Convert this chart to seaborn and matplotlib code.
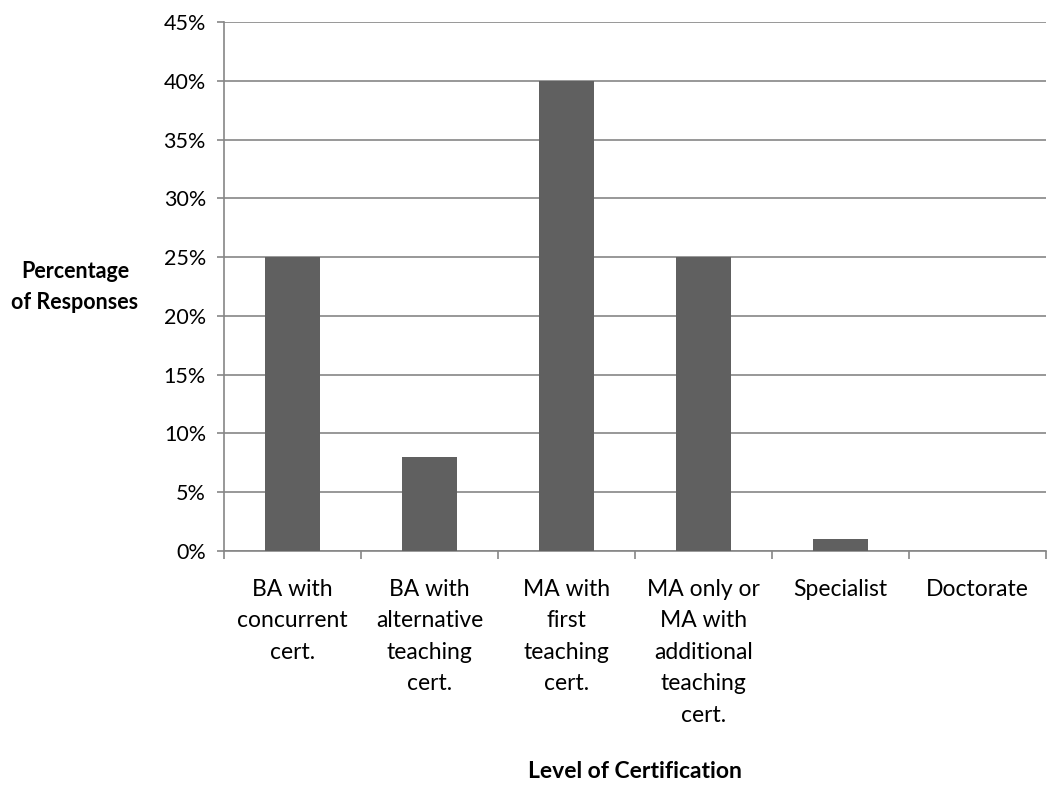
import matplotlib
matplotlib.use("Agg")
import matplotlib.pyplot as plt
import seaborn as sns
import pandas as pd
from matplotlib.ticker import FixedLocator, PercentFormatter

categories = [
    "BA with\nconcurrent\ncert.",
    "BA with\nalternative\nteaching\ncert.",
    "MA with\nfirst\nteaching\ncert.",
    "MA only or\nMA with\nadditional\nteaching\ncert.",
    "Specialist",
    "Doctorate",
]
percentages = [25, 8, 40, 25, 1, 0]
y_ticks = [0, 5, 10, 15, 20, 25, 30, 35, 40, 45]

sns.set_theme(style="white")
plt.rcParams["font.family"] = ["Lato", "DejaVu Sans"]
plt.rcParams["text.color"] = "black"
plt.rcParams["axes.labelcolor"] = "black"

grid_col = "#868686"
bar_col = "#606060"

df = pd.DataFrame({"level": categories, "pct": percentages})

fig = plt.figure(figsize=(10.53, 7.93), dpi=100)
ax = fig.add_axes([224 / 1053, 1 - 551 / 793, 822 / 1053, 529 / 793])

sns.barplot(data=df, x="level", y="pct", color=bar_col, width=0.4,
            saturation=1, linewidth=0, ax=ax, zorder=3)

ax.set_xlim(-0.5, len(categories) - 0.5)
ax.set_ylim(0, 45)
ax.set_yticks(y_ticks)
ax.yaxis.set_major_formatter(PercentFormatter(decimals=0))
ax.yaxis.grid(True, color=grid_col, linewidth=1.2, zorder=0)
ax.set_axisbelow(True)

for side in ("top", "right"):
    ax.spines[side].set_visible(False)
for side in ("left", "bottom"):
    ax.spines[side].set_color(grid_col)
    ax.spines[side].set_linewidth(1.2)

ax.tick_params(axis="y", which="major", left=True, length=5, width=1.2,
               color=grid_col, direction="out", pad=8, labelsize=15.5,
               labelcolor="black")
ax.tick_params(axis="x", which="major", bottom=False, length=0, pad=20,
               labelsize=16.5, labelcolor="black")
ax.xaxis.set_minor_locator(FixedLocator([i - 0.5 for i in range(len(categories) + 1)]))
ax.tick_params(axis="x", which="minor", bottom=True, length=6, width=1.2,
               color=grid_col, direction="out")
for lbl in ax.get_xticklabels():
    lbl.set_linespacing(1.62)
    lbl.set_verticalalignment("top")

ax.set_xlabel("Level of Certification", fontsize=16.5, fontweight="bold",
              va="center")
ax.xaxis.set_label_coords(0.5, -(772 - 551) / 529)
ax.set_ylabel("Percentage\nof Responses", fontsize=15.5, fontweight="bold",
              rotation=0, ha="center", va="center", linespacing=1.55)
ax.yaxis.set_label_coords(-(224 - 75) / 822, (551 - 287) / 529)

fig.savefig("out.png", dpi=100, facecolor="white")
